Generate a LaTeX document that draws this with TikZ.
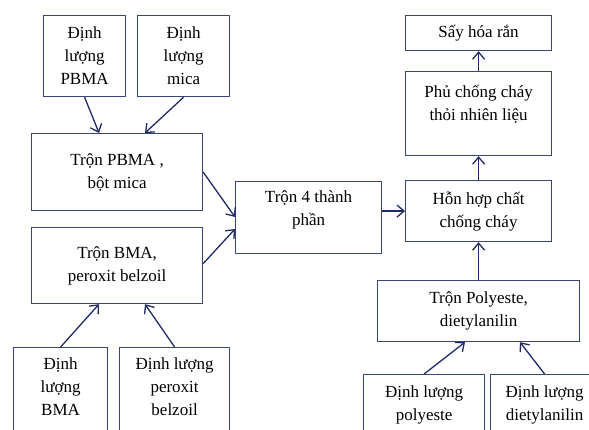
\documentclass[tikz,border=0pt]{standalone}
\usepackage{fontspec}
\setmainfont{Liberation Serif}
\usepackage{xcolor}
\usepackage{tikz}
\usetikzlibrary{arrows.meta}
\definecolor{boxblue}{RGB}{58, 70, 122}
\definecolor{arrowblue}{RGB}{32, 42, 102}

\begin{document}
\begin{tikzpicture}[x=1pt, y=-1pt,
    box/.style={draw=boxblue, line width=1.2pt, inner sep=0pt, anchor=north west, align=center, font=\fontsize{17}{23}\selectfont},
    txt/.style={inner sep=0pt, anchor=north, align=center, font=\fontsize{17}{23}\selectfont},
    flow/.style={arrowblue, line width=1.3pt, -{Straight Barb[length=7pt, width=12pt]}}]
\useasboundingbox (0,0) rectangle (589,430);
\clip (0,0) rectangle (589,430);

% Left branch: PBMA and mica
\node[box, minimum width=82pt, minimum height=81pt] (dPBMA) at (43,15) {Định\\lượng\\PBMA};
\node[box, minimum width=92pt, minimum height=81pt] (dmica) at (137,15) {Định\\lượng\\mica};
\node[box, minimum width=171pt, minimum height=77pt] (tPBMA) at (31,133) {Trộn PBMA ,\\bột mica};

% Left branch: BMA and peroxide
\node[box, minimum width=171pt, minimum height=76pt] (tBMA) at (31,227) {Trộn BMA,\\peroxit belzoil};
\node[box, minimum width=94pt, minimum height=100pt] (dBMA) at (13,347) {};
\node[txt, yshift=-11pt] (dBMAtxt) at (dBMA.north) {Định\\lượng\\BMA};
\node[box, minimum width=110pt, minimum height=100pt] (dperox) at (119,347) {};
\node[txt, yshift=-11pt] (dperoxtxt) at (dperox.north) {Định lượng\\peroxit\\belzoil};

% Middle
\node[box, minimum width=146pt, minimum height=72pt] (t4) at (235,181) {};
\node[txt, yshift=-9pt] (t4txt) at (t4.north) {Trộn 4 thành\\phần};

% Right column
\node[box, minimum width=146pt, minimum height=35pt] (say) at (405,15) {Sấy hóa rắn};
\node[box, minimum width=146pt, minimum height=84pt] (phu) at (405,71) {};
\node[txt, yshift=-14pt] (phutxt) at (phu.north) {Phủ chống cháy\\thỏi nhiên liệu};
\node[box, minimum width=146pt, minimum height=61pt] (hop) at (405,180) {Hỗn hợp chất\\chống cháy};
\node[box, minimum width=202pt, minimum height=61pt] (tPoly) at (377,280) {Trộn Polyeste,\\dietylanilin};
\node[box, minimum width=121pt, minimum height=70pt] (dpoly) at (363,374) {};
\node[txt, yshift=-12pt] (dpolytxt) at (dpoly.north) {Định lượng\\polyeste};
\node[box, minimum width=108pt, minimum height=70pt] (ddiet) at (490,374) {};
\node[txt, yshift=-12pt] (ddiettxt) at (ddiet.north) {Định lượng\\dietylanilin};

% Arrows
\draw[flow] (dPBMA.south) -- ([xshift=68pt]tPBMA.north west);
\draw[flow] (dmica.south) -- ([xshift=114pt]tPBMA.north west);
\draw[flow] (dBMA.north) -- ([xshift=68pt]tBMA.south west);
\draw[flow] (dperox.north) -- ([xshift=114pt]tBMA.south west);
\draw[flow] (tPBMA.east) -- ([yshift=-36pt]t4.north west);
\draw[flow] ([yshift=2pt]tBMA.east) -- ([yshift=-48pt]t4.north west);
\draw[flow] (t4.east |- hop.west) -- (hop.west);
\draw[flow] (hop.north) -- (phu.south);
\draw[flow] (phu.north) -- (say.south);
\draw[flow] (tPoly.north) -- (hop.south);
\draw[flow] (dpoly.north) -- ([xshift=88pt]tPoly.south west);
\draw[flow] (ddiet.north) -- ([xshift=143pt]tPoly.south west);
\end{tikzpicture}
\end{document}
